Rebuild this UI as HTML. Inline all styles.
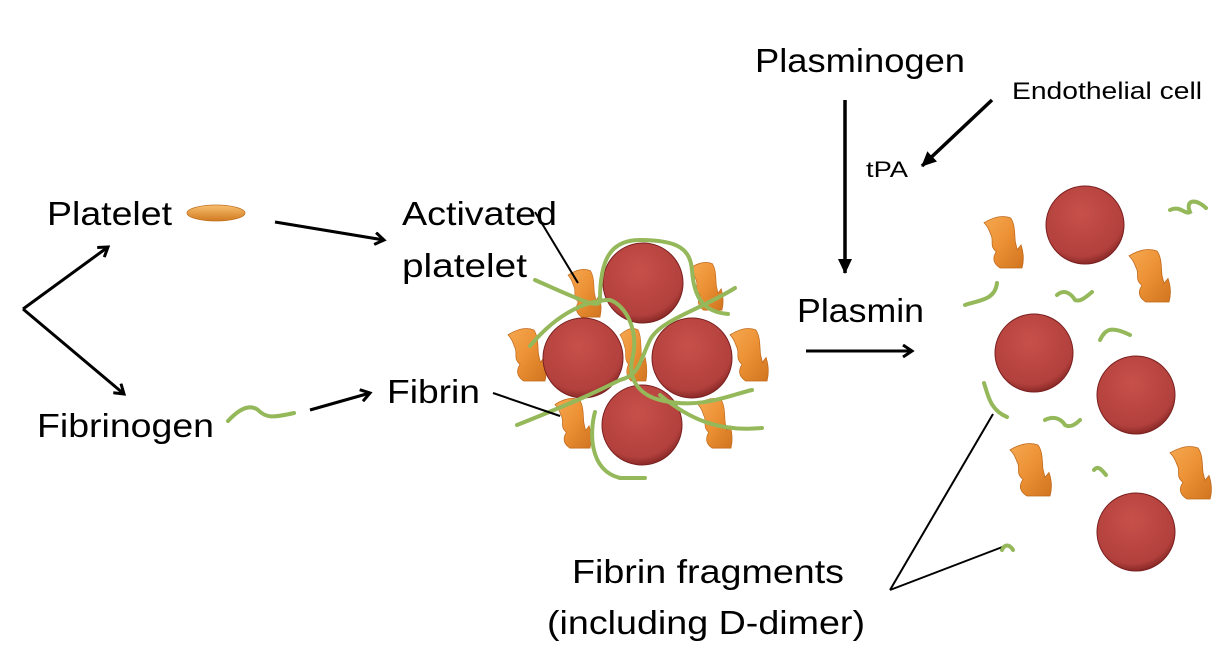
<!DOCTYPE html>
<html><head><meta charset="utf-8"><style>
html,body{margin:0;padding:0;background:#fff;}
svg{display:block;}
text{font-family:"Liberation Sans",sans-serif;fill:#000;}
</style></head><body>
<svg width="1228" height="662" viewBox="0 0 1228 662" xmlns="http://www.w3.org/2000/svg">
<defs>
<radialGradient id="rbc" cx="45%" cy="35%" r="65%">
<stop offset="0" stop-color="#c8504a"/><stop offset="0.85" stop-color="#b2403c"/><stop offset="1" stop-color="#8a2a28"/>
</radialGradient>
<linearGradient id="org" x1="0" y1="0" x2="1" y2="1">
<stop offset="0" stop-color="#f5a850"/><stop offset="0.5" stop-color="#ec9034"/><stop offset="1" stop-color="#d07420"/>
</linearGradient>
<linearGradient id="plt" x1="0" y1="0" x2="0" y2="1">
<stop offset="0" stop-color="#f8c070"/><stop offset="1" stop-color="#d07a20"/>
</linearGradient>
<symbol id="sq" viewBox="0 0 40 56" preserveAspectRatio="none" overflow="visible">
<path d="M0,8 C10,2 20,0 28,3 C33,10 32,20 33,28 L35,36 L39,31 C42,40 42,48 40,55 L17,55 C9,50 9,44 13,38 C5,32 11,26 7,20 C5,15 4,12 0,8 Z" fill="url(#org)" stroke="#c0681a" stroke-width="0.8"/>
</symbol>
<marker id="open" markerWidth="14" markerHeight="14" refX="11" refY="7" orient="auto" markerUnits="userSpaceOnUse">
<path d="M2,1 L11,7 L2,13" fill="none" stroke="#000" stroke-width="3"/>
</marker>
<marker id="fill" markerWidth="16" markerHeight="16" refX="14" refY="8" orient="auto" markerUnits="userSpaceOnUse">
<path d="M0,1 L15,8 L0,15 Z" fill="#000"/>
</marker>
</defs>

<g stroke="#000" stroke-width="3" fill="none">
<line x1="23" y1="309" x2="108" y2="247" marker-end="url(#open)"/>
<line x1="23" y1="309" x2="124" y2="394" marker-end="url(#open)"/>
<line x1="275" y1="222" x2="384" y2="240" marker-end="url(#open)"/>
<line x1="310" y1="410" x2="370" y2="393" marker-end="url(#open)"/>
<line x1="806" y1="351" x2="912" y2="351" marker-end="url(#open)"/>
</g>
<g stroke="#000" stroke-width="3.5">
<line x1="845" y1="100" x2="845" y2="273" marker-end="url(#fill)"/>
<line x1="992" y1="100" x2="922" y2="166" marker-end="url(#fill)"/>
</g>

<ellipse cx="216" cy="213" rx="29" ry="8" fill="url(#plt)" stroke="#c07020" stroke-width="0.8"/>
<path d="M228,421 C240,408 250,404 258,410 C266,418 272,418 294,413" fill="none" stroke="#94b85a" stroke-width="4" stroke-linecap="round"/>

<text x="47" y="225" font-size="33" textLength="125" lengthAdjust="spacingAndGlyphs">Platelet</text>
<text x="37" y="437" font-size="33" textLength="177" lengthAdjust="spacingAndGlyphs">Fibrinogen</text>
<text x="402" y="225" font-size="33" textLength="155" lengthAdjust="spacingAndGlyphs">Activated</text>
<text x="402" y="277" font-size="33" textLength="125" lengthAdjust="spacingAndGlyphs">platelet</text>
<text x="387" y="403" font-size="33" textLength="93" lengthAdjust="spacingAndGlyphs">Fibrin</text>
<text x="755" y="72" font-size="33" textLength="210" lengthAdjust="spacingAndGlyphs">Plasminogen</text>
<text x="1012" y="99" font-size="24" textLength="190" lengthAdjust="spacingAndGlyphs">Endothelial cell</text>
<text x="866" y="177" font-size="22" textLength="42" lengthAdjust="spacingAndGlyphs">tPA</text>
<text x="797" y="322" font-size="33" textLength="127" lengthAdjust="spacingAndGlyphs">Plasmin</text>
<text x="572" y="583" font-size="33" textLength="272" lengthAdjust="spacingAndGlyphs">Fibrin fragments</text>
<text x="547" y="634" font-size="33" textLength="318" lengthAdjust="spacingAndGlyphs">(including D-dimer)</text>

<use href="#sq" x="568" y="268" width="32" height="50"/>
<use href="#sq" x="690" y="261" width="32" height="50"/>
<use href="#sq" x="508" y="327" width="37" height="55"/>
<use href="#sq" x="620" y="327" width="26" height="55"/>
<use href="#sq" x="730" y="327" width="37" height="55"/>
<use href="#sq" x="555" y="397" width="35" height="52"/>
<use href="#sq" x="698" y="397" width="33" height="52"/>
<g fill="url(#rbc)" stroke="#7a2020" stroke-width="1">
<circle cx="643" cy="283" r="40"/>
<circle cx="583" cy="358" r="40"/>
<circle cx="692" cy="358" r="40"/>
<circle cx="642" cy="425" r="40"/>
</g>
<g fill="none" stroke="#94b85a" stroke-width="4" stroke-linecap="round">
<path d="M535,280 C580,300 600,310 600,300 C600,260 610,240 640,240 C680,240 690,250 692,270 C694,300 705,312 728,314"/>
<path d="M530,346 C560,310 590,300 610,300 C625,305 640,330 632,360 C628,380 640,395 660,400 C700,410 730,395 752,390"/>
<path d="M735,288 C700,310 660,320 650,340 C640,360 640,375 620,380 C600,390 580,400 517,425"/>
<path d="M595,412 C590,430 588,470 620,478 L645,478"/>
<path d="M660,395 C690,420 720,432 762,428"/>
</g>
<g stroke="#000" stroke-width="2">
<line x1="535" y1="212" x2="578" y2="283"/>
<line x1="493" y1="393" x2="560" y2="416"/>
<line x1="890" y1="590" x2="993" y2="414"/>
<line x1="890" y1="590" x2="1005" y2="546"/>
</g>

<use href="#sq" x="984" y="215" width="38" height="54"/>
<use href="#sq" x="1129" y="248" width="40" height="55"/>
<use href="#sq" x="1010" y="442" width="40" height="55"/>
<use href="#sq" x="1170" y="445" width="40" height="55"/>
<g fill="url(#rbc)" stroke="#7a2020" stroke-width="1">
<circle cx="1085" cy="225" r="39"/>
<circle cx="1034" cy="353" r="39"/>
<circle cx="1136" cy="395" r="39"/>
<circle cx="1136" cy="532" r="39"/>
</g>
<g fill="none" stroke="#94b85a" stroke-width="4" stroke-linecap="round">
<path d="M1170,210 C1180,205 1185,215 1190,212 C1185,200 1195,198 1206,208"/>
<path d="M965,305 C980,300 995,300 997,283"/>
<path d="M1057,295 C1065,288 1072,295 1075,300 C1080,302 1085,298 1092,292"/>
<path d="M1100,340 C1105,330 1110,325 1130,335"/>
<path d="M984,383 C988,395 990,410 1007,417"/>
<path d="M1045,420 C1055,415 1062,420 1065,425 C1070,428 1075,425 1080,420"/>
<path d="M1094,470 C1098,465 1102,470 1106,475"/>
<path d="M1002,550 C1005,543 1010,545 1013,550"/>
</g>
</svg>
</body></html>
